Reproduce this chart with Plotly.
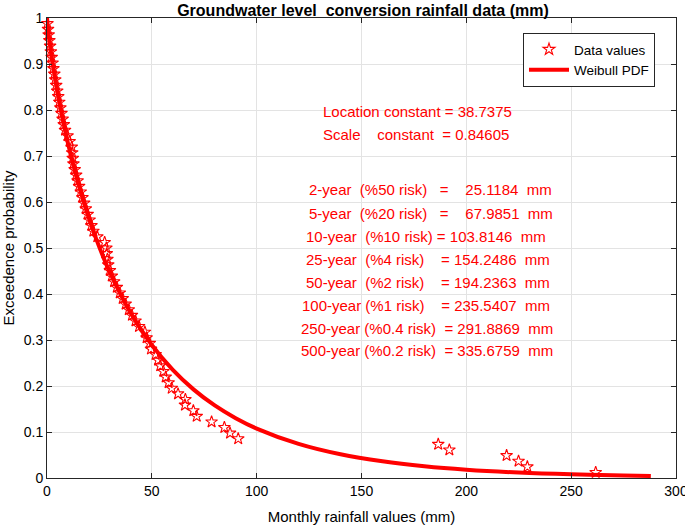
import plotly.graph_objects as go

# Observed data points (exceedance probability vs monthly rainfall)
data_x = [0.21, 0.49, 0.79, 1.12, 1.47, 1.84, 2.23, 2.63, 3.05, 3.48,
          3.92, 4.38, 4.86, 5.35, 5.85, 6.37, 6.90, 7.45, 8.01, 8.59,
          9.8, 10.8, 11.8, 12.0, 12.3, 12.6, 13.2, 13.9, 14.6, 15.3,
          16.1, 16.9, 17.7, 18.5, 19.4, 20.3, 21.2, 22.1, 24.0, 27.5,
          28.3, 28.5, 28.8, 29.2, 30.0, 30.9, 32.0, 33.3, 34.7, 36.1,
          37.5, 39.0, 40.5, 42.2, 43.9, 46.7, 47.5, 49.0, 49.6, 51.8,
          53.0, 54.0, 55.5, 56.6, 58.0, 59.5, 62.5, 66.0, 65.8, 69.8,
          71.4, 78.5, 84.6, 87.3, 91.2, 186.6, 191.9, 219.2, 224.9, 229.1,
          261.7]
data_y = [0.9878, 0.9756, 0.9634, 0.9512, 0.9390, 0.9268, 0.9146, 0.9024, 0.8902, 0.8780,
          0.8659, 0.8537, 0.8415, 0.8293, 0.8171, 0.8049, 0.7927, 0.7805, 0.7683, 0.7561,
          0.7439, 0.7317, 0.7195, 0.7073, 0.6951, 0.6829, 0.6707, 0.6585, 0.6463, 0.6341,
          0.6220, 0.6098, 0.5976, 0.5854, 0.5732, 0.5610, 0.5488, 0.5366, 0.5244, 0.5122,
          0.5000, 0.4878, 0.4756, 0.4634, 0.4512, 0.4390, 0.4268, 0.4146, 0.4024, 0.3902,
          0.3780, 0.3659, 0.3537, 0.3415, 0.3293, 0.3171, 0.3049, 0.2927, 0.2805, 0.2683,
          0.2561, 0.2439, 0.2317, 0.2195, 0.2073, 0.1951, 0.1829, 0.1707, 0.1585, 0.1463,
          0.1341, 0.1220, 0.1098, 0.0976, 0.0854, 0.0732, 0.0610, 0.0488, 0.0366, 0.0244,
          0.0122]

# Fitted curve
curve_x = [0, 0.5, 1, 2, 3, 5, 7, 10, 15, 20, 25, 30, 40, 50, 60, 70, 80, 90,
           100, 120, 140, 160, 180, 200, 225, 250, 275, 288]
curve_y = [1.0, 0.9751, 0.9557, 0.9218, 0.8915, 0.8379, 0.7904, 0.7276, 0.6388,
           0.5646, 0.5014, 0.4469, 0.3579, 0.2891, 0.2350, 0.1921, 0.1577, 0.1300,
           0.1075, 0.0741, 0.0515, 0.0362, 0.0255, 0.0181, 0.0119, 0.0079, 0.0052,
           0.0043]

x_ticks = [0, 50, 100, 150, 200, 250, 300]
y_ticks = [0, 0.1, 0.2, 0.3, 0.4, 0.5, 0.6, 0.7, 0.8, 0.9, 1]
y_tick_text = ["0", "0.1", "0.2", "0.3", "0.4", "0.5", "0.6", "0.7", "0.8", "0.9", "1"]

NB = "\u00a0"
info_lines = [
    "Location constant = 38.7375",
    "Scale" + NB * 4 + "constant" + NB + " = 0.84605",
    "2-year" + NB + " (%50 risk)" + NB * 2 + " =" + NB * 3 + " 25.1184" + NB + " mm",
    "5-year" + NB + " (%20 risk)" + NB * 2 + " =" + NB * 3 + " 67.9851" + NB + " mm",
    "10-year" + NB + " (%10 risk) = 103.8146" + NB + " mm",
    "25-year" + NB + " (%4 risk)" + NB * 3 + " = 154.2486" + NB + " mm",
    "50-year" + NB + " (%2 risk)" + NB * 3 + " = 194.2363" + NB + " mm",
    "100-year (%1 risk)" + NB * 3 + " = 235.5407" + NB + " mm",
    "250-year (%0.4 risk)" + NB + " = 291.8869" + NB + " mm",
    "500-year (%0.2 risk)" + NB + " = 335.6759" + NB + " mm",
]
info_left_px = [321, 321, 307, 307, 304, 304, 304, 300, 299, 299]
info_y_px = [111, 134, 190, 213, 236, 259, 282, 305, 328, 351]

FONT = "Liberation Sans, Arial, Helvetica, sans-serif"
RED = "#ff0000"

fig = go.Figure()
fig.add_trace(go.Scatter(
    x=data_x, y=data_y, mode="markers", name="Data values",
    marker=dict(symbol="star-open", size=9, color=RED, line=dict(width=1.1, color=RED)),
    cliponaxis=False,
))
fig.add_trace(go.Scatter(
    x=curve_x, y=curve_y, mode="lines", name="Weibull PDF",
    line=dict(color=RED, width=4, shape="spline"),
))

L, R, T, B = 47, 9, 18, 47
W, H = 685, 525
pw, ph = W - L - R, H - T - B

annotations = []
for txt, lx, ly in zip(info_lines, info_left_px, info_y_px):
    annotations.append(dict(
        xref="paper", yref="paper",
        x=(lx - L) / pw, y=(H - B - ly) / ph,
        xanchor="left", yanchor="middle", showarrow=False,
        text=txt, font=dict(family=FONT, size=15, color=RED),
    ))

axis_common = dict(
    showline=True, mirror="ticks", linecolor="#262626", linewidth=1,
    ticks="inside", ticklen=5, tickcolor="#262626",
    showgrid=True, gridcolor="#e3e3e3", gridwidth=1, zeroline=False,
    tickfont=dict(family=FONT, size=14, color="black"),
    automargin=False, ticklabeloverflow="allow",
)

fig.update_layout(
    width=W, height=H,
    margin=dict(l=L, r=R, t=T, b=B, pad=0),
    paper_bgcolor="white", plot_bgcolor="white",
    font=dict(family=FONT, color="black"),
    title=dict(
        text="<b>Groundwater level" + NB + " conversion rainfall data (mm)</b>",
        x=363 / W, xanchor="center", xref="container",
        y=1 - 10 / H, yanchor="middle", yref="container",
        font=dict(family=FONT, size=16, color="black"),
    ),
    xaxis=dict(range=[0, 300], tickvals=x_ticks, **axis_common,
               title=dict(text="Monthly rainfall values (mm)",
                          font=dict(family=FONT, size=15, color="black"))),
    yaxis=dict(range=[0, 1], tickvals=y_ticks, ticktext=y_tick_text, **axis_common,
               title=dict(text="Exceedence probability",
                          font=dict(family=FONT, size=15, color="black"))),
    legend=dict(
        x=(655 - L) / pw, y=(H - B - 33) / ph, xanchor="right", yanchor="top",
        bgcolor="white", bordercolor="#262626", borderwidth=1,
        font=dict(family=FONT, size=13.5, color="black"),
        tracegroupgap=0, itemwidth=40,
    ),
    showlegend=True,
    annotations=annotations,
)

fig.write_html(
    "out.html",
    config={"displayModeBar": False},
    post_script="document.body.style.margin='0';document.body.style.overflow='hidden';",
)
